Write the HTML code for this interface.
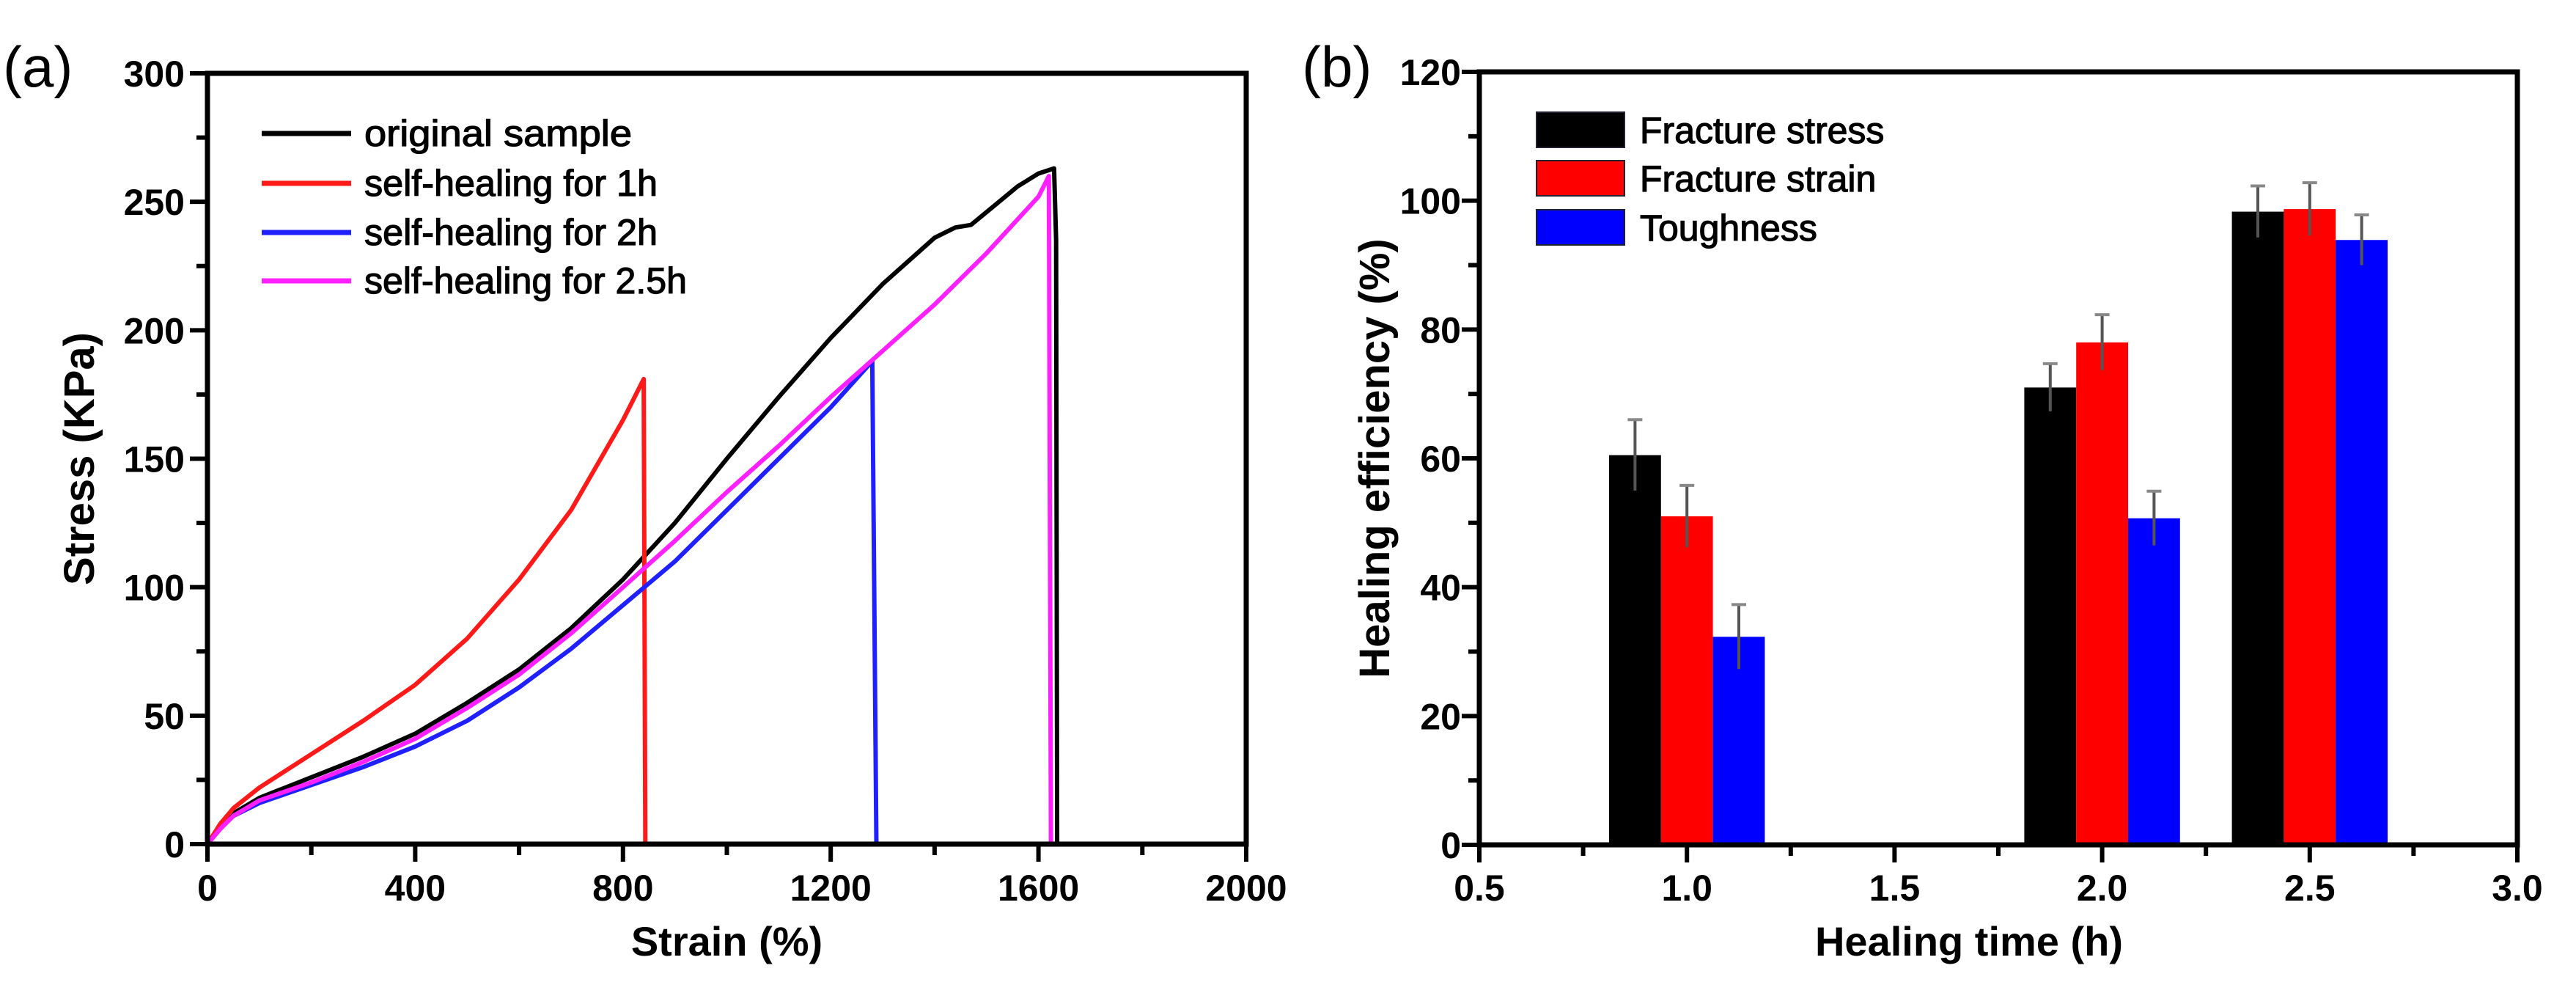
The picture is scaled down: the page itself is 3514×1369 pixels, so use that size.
<!DOCTYPE html>
<html><head><meta charset="utf-8"><style>
html,body{margin:0;padding:0;background:#fff;}
svg{display:block;font-family:"Liberation Sans",sans-serif;}
</style></head><body>
<svg id="fig" width="3514" height="1369" viewBox="0 0 3514 1369">
<text x="4" y="118" font-size="78">(a)</text>
<text x="1776" y="118" font-size="78">(b)</text>
<g id="pa"></g>
<g id="pb"></g>
</svg>
<script>
// ---- Panel (a) data ----
const xTicksA = [0, 400, 800, 1200, 1600, 2000];
const yTicksA = [0, 50, 100, 150, 200, 250, 300];
const seriesNames = ["original sample", "self-healing for 1h", "self-healing for 2h", "self-healing for 2.5h"];
const seriesColors = ["#000000", "#ff1a1a", "#2020ff", "#ff20ff"];
const origX = [0,25,50,100,200,300,400,500,600,700,800,900,1000,1100,1200,1300,1400,1440,1470,1500,1560,1600,1630,1634,1636];
const origY = [0,7,12,18,26,34,43,55,68,84,103,125,150,174,197,218,236,240,241,246,256,261,263,235,0];
const h1X = [0,25,50,100,200,300,400,500,600,700,800,840,843];
const h1Y = [0,8,14,22,35,48,62,80,103,130,165,181,0];
const h2X = [0,25,50,100,200,300,400,500,600,700,800,900,1000,1100,1200,1280,1288];
const h2Y = [0,6,11,16,23,30,38,48,61,76,93,110,130,150,170,188,0];
const h25X = [0,25,50,100,200,300,400,500,600,700,800,900,1000,1100,1200,1300,1400,1500,1600,1620,1624];
const h25Y = [0,6,11,17,24,32,41,53,66,82,100,118,137,155,174,192,210,230,252,260,0];
// ---- Panel (b) data ----
const xTicksB = [0.5, 1.0, 1.5, 2.0, 2.5, 3.0];
const yTicksB = [0, 20, 40, 60, 80, 100, 120];
const times = [1.0, 2.0, 2.5];
const barNames = ["Fracture stress", "Fracture strain", "Toughness"];
const barColors = ["#000000", "#ff0000", "#0000ff"];
const stressVals = [60.5, 71, 98.3];
const strainVals = [51, 78, 98.7];
const toughVals = [32.3, 50.7, 93.9];
const stressErr = [5.5, 3.7, 4];
const strainErr = [4.8, 4.3, 4.1];
const toughErr = [5, 4.2, 3.9];

const NS = "http://www.w3.org/2000/svg";
function mk(parent, tag, attrs, text){
  const e = document.createElementNS(NS, tag);
  for (const k in attrs) e.setAttribute(k, attrs[k]);
  if (text !== undefined) e.textContent = text;
  parent.appendChild(e); return e;
}

// ---------- Panel A ----------
const A = {L:283, R:1700, T:100, B:1151};
const ax = v => A.L + (v/2000)*(A.R-A.L);
const ay = v => A.B - (v/300)*(A.B-A.T);
const pa = document.getElementById('pa');
const allX = [origX, h1X, h2X, h25X], allY = [origY, h1Y, h2Y, h25Y];
for (let s=0; s<4; s++){
  let d = allX[s].map((x,i)=>(i?'L':'M')+ax(x).toFixed(1)+' '+ay(allY[s][i]).toFixed(1)).join(' ');
  const p = mk(pa,'path',{d:d, fill:'none', stroke:seriesColors[s], 'stroke-width':6, 'stroke-linejoin':'round'});
  
  
}
const frA = mk(pa,'rect',{x:A.L,y:A.T,width:A.R-A.L,height:A.B-A.T,fill:'none',stroke:'#000','stroke-width':7});


for (let v=0; v<=2000; v+=200){
  const maj = v%400===0;
  mk(pa,'line',{x1:ax(v),x2:ax(v),y1:A.B,y2:A.B+(maj?24:15),stroke:'#000','stroke-width':6});
}
xTicksA.forEach(v=>{
  const t = mk(pa,'text',{x:ax(v),y:1228,'font-size':50,'font-weight':'bold','text-anchor':'middle'},String(v));
  
  
});
for (let v=0; v<=300; v+=25){
  const maj = v%50===0;
  mk(pa,'line',{x1:A.L,x2:A.L-(maj?24:15),y1:ay(v),y2:ay(v),stroke:'#000','stroke-width':6});
}
yTicksA.forEach(v=>{
  const t = mk(pa,'text',{x:252,y:ay(v)+18,'font-size':50,'font-weight':'bold','text-anchor':'end'},String(v));
  
  
});
const xtA = mk(pa,'text',{x:(A.L+A.R)/2,y:1303,'font-size':56,'font-weight':'bold','text-anchor':'middle'},'Strain (%)');


const ytA = mk(pa,'text',{x:0,y:0,'font-size':58,'font-weight':'bold','text-anchor':'middle',transform:`translate(128 ${(A.T+A.B)/2}) rotate(-90)`},'Stress (KPa)');


const legRows = [182, 250, 317, 383];
for (let s=0; s<4; s++){
  const g = mk(pa,'g',{});
  
  
  mk(g,'line',{x1:357,x2:479,y1:legRows[s],y2:legRows[s],stroke:seriesColors[s],'stroke-width':7});
  mk(g,'text',{x:497,y:legRows[s]+17,'font-size':50,stroke:'#000','stroke-width':1.2,textLength:s===0?365:(s===3?440:400),lengthAdjust:'spacingAndGlyphs'},seriesNames[s]);
}

// ---------- Panel B ----------
const B = {L:2018, R:3434, T:98, B:1152};
const bx = v => B.L + ((v-0.5)/2.5)*(B.R-B.L);
const by = v => B.B - (v/120)*(B.B-B.T);
const pb = document.getElementById('pb');
const vals = [stressVals, strainVals, toughVals], errs = [stressErr, strainErr, toughErr];
const bw = 0.125;
for (let s=0; s<3; s++){
  times.forEach((t,i)=>{
    const cx = t + (s-1)*bw;
    const r = mk(pb,'rect',{x:bx(cx-bw/2),y:by(vals[s][i]),width:bx(cx+bw/2)-bx(cx-bw/2),height:B.B-by(vals[s][i]),fill:barColors[s]});
    
    
    const top = vals[s][i]+errs[s][i], bot = vals[s][i]-errs[s][i];
    const e = mk(pb,'line',{x1:bx(cx),x2:bx(cx),y1:by(top),y2:by(bot),stroke:'#555','stroke-width':4});
    
    
    mk(pb,'line',{x1:bx(cx)-10,x2:bx(cx)+10,y1:by(top),y2:by(top),stroke:'#888','stroke-width':4});
  });
}
const frB = mk(pb,'rect',{x:B.L,y:B.T,width:B.R-B.L,height:B.B-B.T,fill:'none',stroke:'#000','stroke-width':7});


for (let k=0; k<=10; k++){
  const v = 0.5 + k*0.25, maj = k%2===0;
  mk(pb,'line',{x1:bx(v),x2:bx(v),y1:B.B,y2:B.B+(maj?24:15),stroke:'#000','stroke-width':6});
}
xTicksB.forEach(v=>{
  const t = mk(pb,'text',{x:bx(v),y:1228,'font-size':50,'font-weight':'bold','text-anchor':'middle'},v.toFixed(1));
  
  
});
for (let v=0; v<=120; v+=10){
  const maj = v%20===0;
  mk(pb,'line',{x1:B.L,x2:B.L-(maj?24:15),y1:by(v),y2:by(v),stroke:'#000','stroke-width':6});
}
yTicksB.forEach(v=>{
  const t = mk(pb,'text',{x:1993,y:by(v)+18,'font-size':50,'font-weight':'bold','text-anchor':'end'},String(v));
  
  
});
const xtB = mk(pb,'text',{x:(B.L+B.R)/2-40,y:1303,'font-size':56,'font-weight':'bold','text-anchor':'middle'},'Healing time (h)');


const ytB = mk(pb,'text',{x:0,y:0,'font-size':58,'font-weight':'bold','text-anchor':'middle',transform:`translate(1895 ${(B.T+B.B)/2}) rotate(-90)`},'Healing efficiency (%)');


const legB = [153, 219, 286];
for (let s=0; s<3; s++){
  const g = mk(pb,'g',{});
  
  
  mk(g,'rect',{x:2096,y:legB[s],width:120,height:48,fill:barColors[s],stroke:'#223','stroke-width':2});
  mk(g,'text',{x:2237,y:legB[s]+42,'font-size':50,stroke:'#000','stroke-width':1.2},barNames[s]);
}
</script>
</body></html>
